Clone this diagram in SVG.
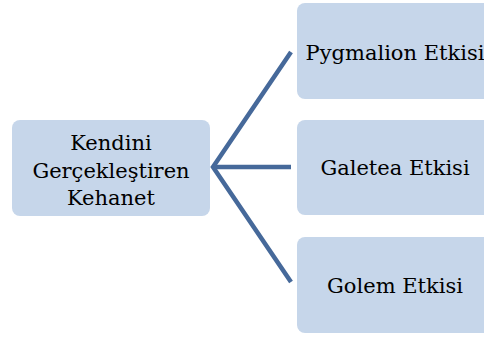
<svg xmlns="http://www.w3.org/2000/svg" width="484" height="338" viewBox="0 0 484 338">
<style>
.box{fill:#c6d6ea;}
.c{stroke:#46699a;stroke-width:4.5;fill:none;stroke-linecap:butt;}
</style>
<rect width="484" height="338" fill="#ffffff"/>
<g id="connectors">
<path class="c" d="M291,52 L213,167 L291,282"/>
<path class="c" d="M213,167 L291,167"/>
</g>
<g font-family="DejaVu Serif, serif" font-size="21" text-anchor="middle" fill="#000000">
<g id="root">
<rect class="box" x="12" y="120" width="198" height="96" rx="8"/>
<text x="111" y="150">Kendini</text>
<text x="111" y="178">Gerçekleştiren</text>
<text x="111" y="205">Kehanet</text>
</g>
<g id="pygmalion">
<rect class="box" x="297" y="3" width="196" height="96" rx="8"/>
<text x="395" y="60">Pygmalion Etkisi</text>
</g>
<g id="galetea">
<rect class="box" x="297" y="120" width="196" height="95" rx="8"/>
<text x="395" y="175">Galetea Etkisi</text>
</g>
<g id="golem">
<rect class="box" x="297" y="237" width="196" height="96" rx="8"/>
<text x="395" y="293">Golem Etkisi</text>
</g>
</g>
</svg>
